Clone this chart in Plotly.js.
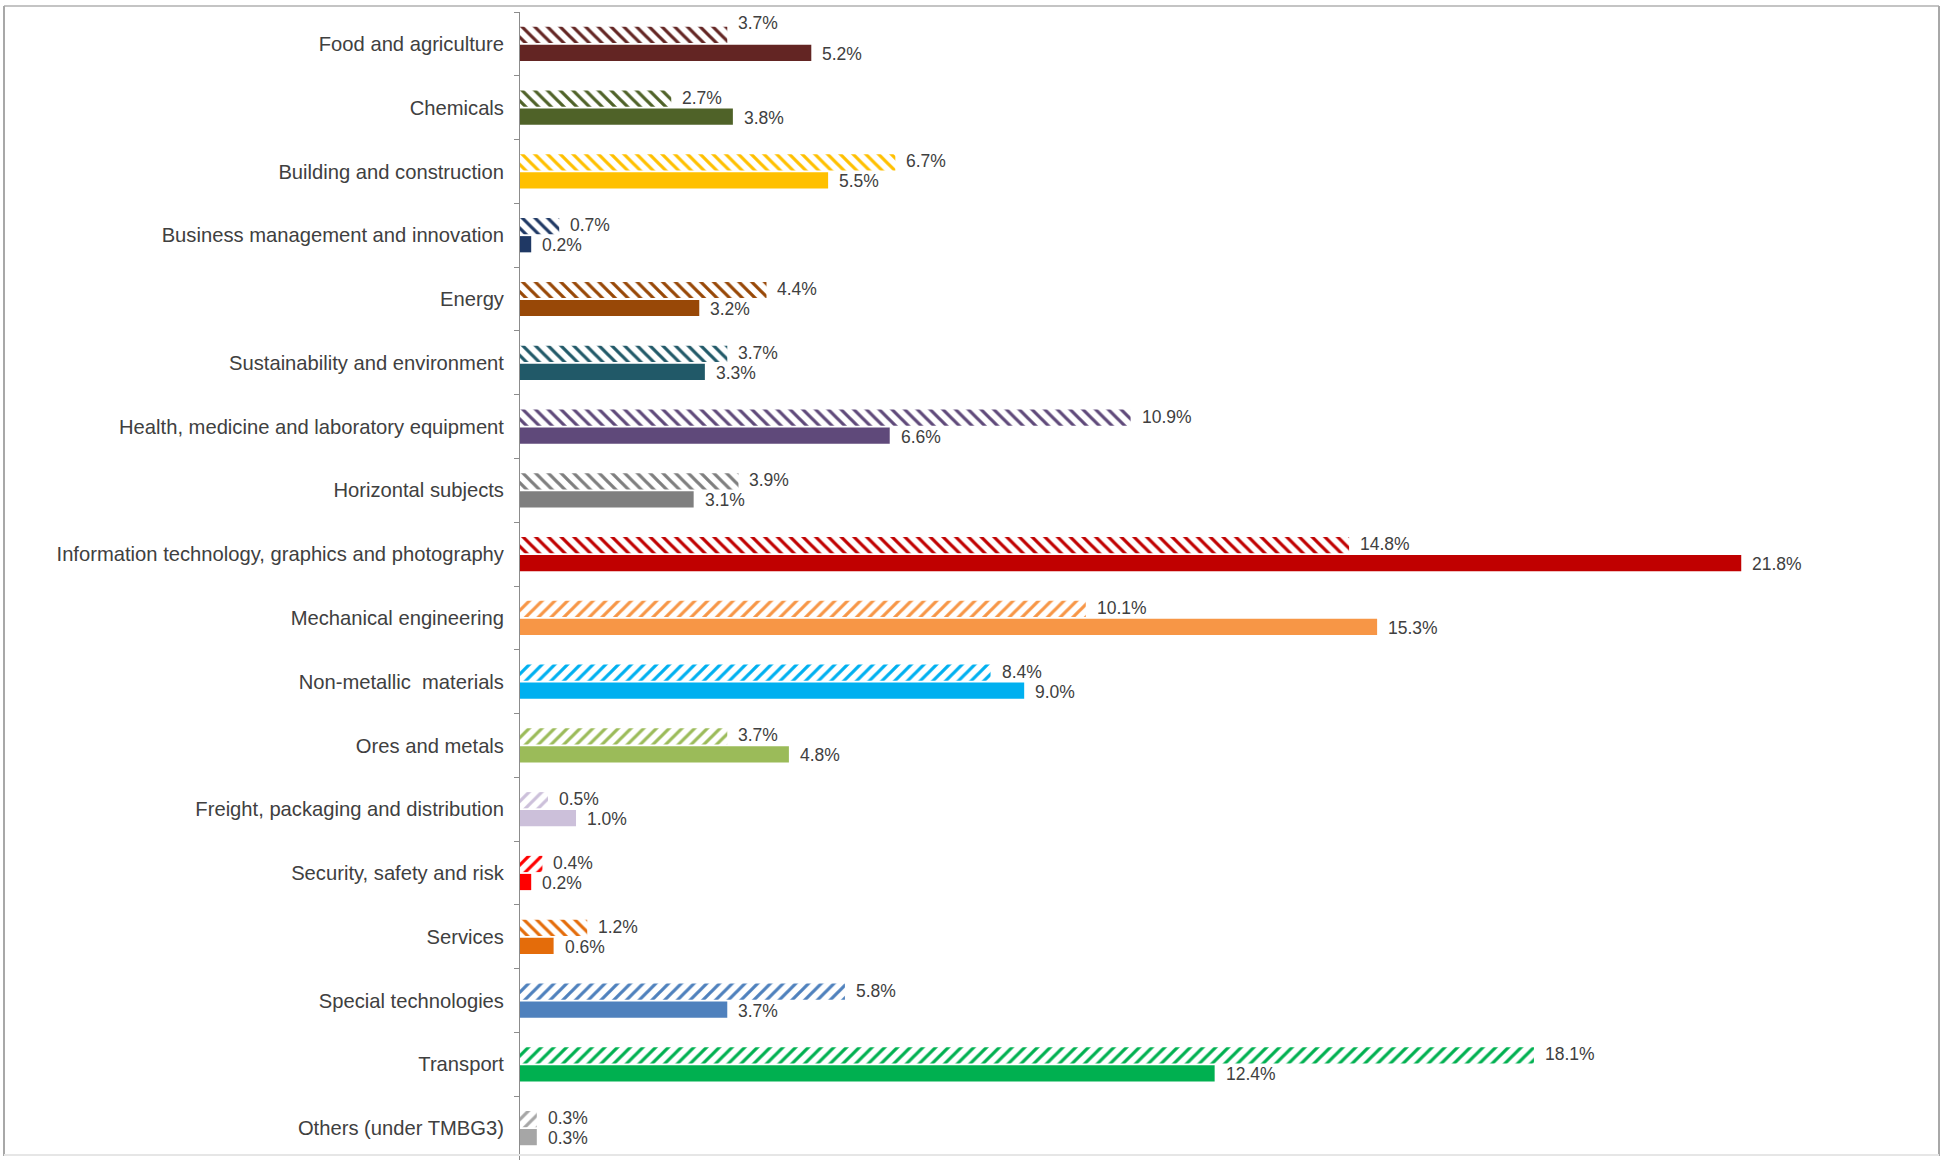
<!DOCTYPE html>
<html>
<head>
<meta charset="utf-8">
<script src="https://cdn.plot.ly/plotly-3.0.1.min.js"></script>
<style>
  html, body { margin: 0; padding: 0; background: #ffffff; }
  #chart { width: 1942px; height: 1160px; }
</style>
</head>
<body>
<div id="chart"></div>
<script>
// ---- data ----
const categories = [
  "Food and agriculture",
  "Chemicals",
  "Building and construction",
  "Business management and innovation",
  "Energy",
  "Sustainability and environment",
  "Health, medicine and laboratory equipment",
  "Horizontal subjects",
  "Information technology, graphics and photography",
  "Mechanical engineering",
  "Non-metallic  materials",
  "Ores and metals",
  "Freight, packaging and distribution",
  "Security, safety and risk",
  "Services",
  "Special technologies",
  "Transport",
  "Others (under TMBG3)"
];
const hatchedValues = [3.7, 2.7, 6.7, 0.7, 4.4, 3.7, 10.9, 3.9, 14.8, 10.1, 8.4, 3.7, 0.5, 0.4, 1.2, 5.8, 18.1, 0.3];
const solidValues   = [5.2, 3.8, 5.5, 0.2, 3.2, 3.3, 6.6, 3.1, 21.8, 15.3, 9.0, 4.8, 1.0, 0.2, 0.6, 3.7, 12.4, 0.3];

// ---- styles ----
const colors = [
  "#632523", "#4F6228", "#FFC000", "#1F3864", "#984807", "#215968",
  "#5F497A", "#7F7F7F", "#C00000", "#F79646", "#00B0F0", "#9BBB59",
  "#CCC0DA", "#FF0000", "#E46C0A", "#4F81BD", "#00B050", "#A6A6A6"
];
const hatchShapes = [
  "\\", "\\", "\\", "\\", "\\", "\\", "\\", "\\", "\\",
  "/", "/", "/", "/", "/", "\\", "/", "/", "/"
];

const FONT = "Liberation Sans, Arial, sans-serif";
const TEXT_COLOR = "#404040";

const W = 1942, H = 1160;
const M = { l: 520, r: 42, t: 12, b: 0 };
const plotW = W - M.l - M.r, plotH = H - M.t - M.b;
const pxPerUnit = 56.02;

const traces = [
  {
    type: "bar", orientation: "h",
    y: categories, x: hatchedValues,
    marker: {
      color: colors,
      line: { width: 0 },
      pattern: { shape: hatchShapes, fgcolor: colors, bgcolor: "#ffffff", fillmode: "replace", size: 9, solidity: 0.36 }
    },
    hoverinfo: "x+y"
  },
  {
    type: "bar", orientation: "h",
    y: categories, x: solidValues,
    marker: { color: colors, line: { width: 0 } },
    hoverinfo: "x+y"
  }
];

// value labels
const annotations = [];
const catPx = plotH / categories.length;
const barOffset = catPx * (1 - 0.435) / 4; // centre of each bar relative to category centre
categories.forEach((c, i) => {
  annotations.push({
    x: hatchedValues[i], y: c, xref: "x", yref: "y",
    text: hatchedValues[i].toFixed(1) + "%",
    showarrow: false, xanchor: "left", yanchor: "middle",
    xshift: 9, yshift: barOffset + (i === 0 ? 12 : 1),
    font: { family: FONT, size: 17.5, color: TEXT_COLOR }
  });
  annotations.push({
    x: solidValues[i], y: c, xref: "x", yref: "y",
    text: solidValues[i].toFixed(1) + "%",
    showarrow: false, xanchor: "left", yanchor: "middle",
    xshift: 9, yshift: -barOffset - 1,
    font: { family: FONT, size: 17.5, color: TEXT_COLOR }
  });
});

// outer frame (pixel -> paper)
const px = v => (v - M.l) / plotW;
const py = v => (H - M.b - v) / plotH;
const shapes = [
  { type: "line", xref: "paper", yref: "paper", x0: px(4), x1: px(1939), y0: py(6), y1: py(6), line: { color: "#c4c4c4", width: 2 } },
  { type: "line", xref: "paper", yref: "paper", x0: px(4), x1: px(4), y0: py(6), y1: py(1156), line: { color: "#a8a8a8", width: 2 } },
  { type: "line", xref: "paper", yref: "paper", x0: px(1939), x1: px(1939), y0: py(6), y1: py(1156), line: { color: "#a8a8a8", width: 2 } },
  { type: "line", xref: "paper", yref: "paper", x0: px(4), x1: px(1939), y0: py(1155), y1: py(1155), line: { color: "#e6e6e6", width: 2 } }
];

const layout = {
  width: W, height: H, autosize: false,
  margin: M,
  paper_bgcolor: "#ffffff", plot_bgcolor: "#ffffff",
  showlegend: false,
  barmode: "group", bargap: 0.435, bargroupgap: 0.1,
  font: { family: FONT, color: TEXT_COLOR },
  xaxis: {
    range: [0, plotW / pxPerUnit],
    visible: false, showgrid: false, zeroline: false, fixedrange: true
  },
  yaxis: {
    type: "category",
    range: [categories.length - 0.5, -0.5],
    showline: true, linecolor: "#8c8c8c", linewidth: 1,
    ticks: "outside", tickson: "boundaries", ticklen: 5, tickcolor: "#8c8c8c", tickwidth: 1,
    ticklabelstandoff: 11,
    tickfont: { family: FONT, size: 20.2, color: TEXT_COLOR },
    showgrid: false, zeroline: false, fixedrange: true
  },
  annotations: annotations,
  shapes: shapes
};

Plotly.newPlot("chart", traces, layout, { displayModeBar: false, staticPlot: true });
</script>
</body>
</html>
